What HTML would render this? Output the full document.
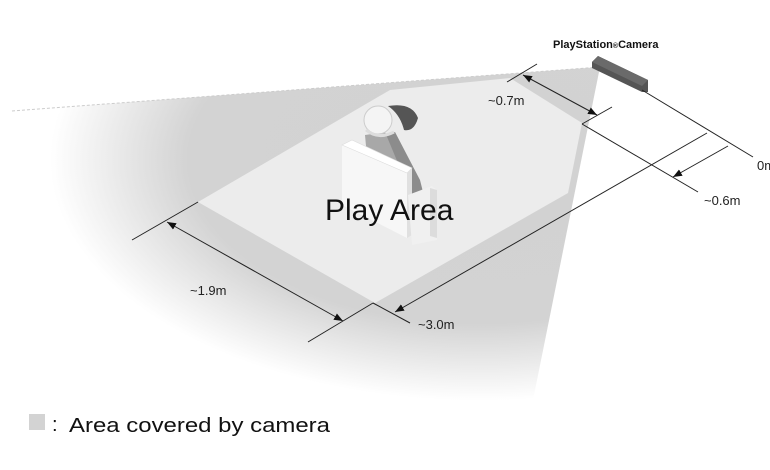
<!DOCTYPE html>
<html><head><meta charset="utf-8"><style>
html,body{margin:0;padding:0;background:#fff;}
svg{display:block;font-family:"Liberation Sans",sans-serif;}
</style></head><body>
<svg width="770" height="470" viewBox="0 0 770 470" xmlns="http://www.w3.org/2000/svg">
<defs>
<radialGradient id="g" gradientUnits="userSpaceOnUse" cx="480" cy="160" r="430" gradientTransform="translate(480 160) scale(1 0.56) translate(-480 -160)">
<stop offset="0" stop-color="#d2d2d2"/>
<stop offset="0.68" stop-color="#d3d3d3"/>
<stop offset="1" stop-color="#ffffff"/>
</radialGradient>
<marker id="a" viewBox="0 0 10 10" refX="10" refY="5" markerWidth="9" markerHeight="9" orient="auto-start-reverse" markerUnits="userSpaceOnUse"><path d="M0,1 L10,5 L0,9z" fill="#111"/></marker>
</defs>
<polygon points="12,111 600,67 530,415 300,420 60,330" fill="url(#g)"/>
<line x1="12" y1="111" x2="600" y2="67" stroke="#ccc" stroke-width="1" stroke-dasharray="3,2"/>
<polygon points="198,202 390,90 510,78 582,123 568,193 375,303" fill="#ececec"/>
<polygon points="370,140 395,132 420,180 425,200 410,205 395,175" fill="#8c8c8c"/>
<polygon points="365,135 385,132 405,180 395,200 370,190" fill="#a8a8a8"/>
<circle cx="378" cy="120" r="14" fill="#f4f4f4" stroke="#ccc" stroke-width="1"/>
<path d="M388,106 Q412,102 418,118 Q414,132 404,130 Q400,114 388,106z" fill="#555"/>
<path d="M366,130 Q378,140 394,132" stroke="#ddd" stroke-width="3" fill="none"/>
<polygon points="342,145 407,173 407,238 342,205" fill="#f7f7f7"/>
<polygon points="342,145 352,140 412,168 407,173" fill="#fff" stroke="#ddd" stroke-width="0.6"/>
<polygon points="407,173 412,168 412,235 407,238" fill="#e0e0e0"/>
<polygon points="408,195 432,186 437,190 437,240 412,245" fill="#f0f0f0"/>
<polygon points="430,188 437,190 437,238 430,236" fill="#dcdcdc"/>
<text x="325" y="220" font-size="30" fill="#111">Play Area</text>
<polygon points="592,62 598,56 648,80 648,92 642,92 592,68" fill="#555"/>
<polygon points="592,62 598,56 648,80 642,86" fill="#6a6a6a"/>
<text x="553" y="48" font-size="11" font-weight="bold" fill="#111">PlayStation<tspan font-size="7">®</tspan>Camera</text>
<g stroke="#222" stroke-width="1" fill="none">
<line x1="507" y1="82" x2="537" y2="64"/>
<line x1="582" y1="124" x2="612" y2="107"/>
<line x1="523" y1="75" x2="597" y2="115" marker-start="url(#a)" marker-end="url(#a)"/>
<line x1="642" y1="90" x2="753" y2="157"/>
<line x1="582" y1="124" x2="698" y2="192"/>
<line x1="728" y1="146" x2="673" y2="177" marker-end="url(#a)"/>
<line x1="707" y1="133" x2="395" y2="312" marker-end="url(#a)"/>
<line x1="373" y1="303" x2="410" y2="323"/>
<line x1="373" y1="303" x2="308" y2="342"/>
<line x1="198" y1="202" x2="132" y2="240"/>
<line x1="167" y1="222" x2="343" y2="321" marker-start="url(#a)" marker-end="url(#a)"/>
</g>
<g font-size="13" fill="#222">
<text x="488" y="105">~0.7m</text>
<text x="757" y="170">0m</text>
<text x="704" y="205">~0.6m</text>
<text x="190" y="295">~1.9m</text>
<text x="418" y="329">~3.0m</text>
</g>
<rect x="29" y="414" width="16" height="16" fill="#d3d3d3"/>
<text x="52" y="431" font-size="20" fill="#111">:</text>
<text x="69" y="432" font-size="20" fill="#111" textLength="261" lengthAdjust="spacingAndGlyphs">Area covered by camera</text>
</svg>
</body></html>
